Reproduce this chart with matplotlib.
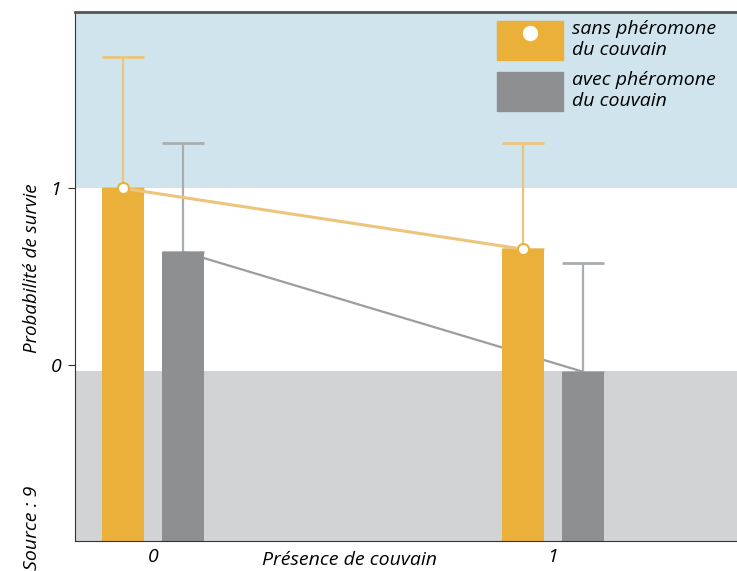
import numpy as np
import matplotlib.pyplot as plt
from matplotlib.patches import Patch
from matplotlib.lines import Line2D

plt.rcParams['font.family'] = ['Open Sans', 'DejaVu Sans']
plt.rcParams['font.style'] = 'italic'

# data
groups = [0, 1]
sans = [1.0, 0.655]          # sans phéromone du couvain
avec = [0.64, -0.04]         # avec phéromone du couvain
sans_err = [0.745, 0.60]
avec_err = [0.615, 0.615]
labels = ["sans phéromone\ndu couvain", "avec phéromone\ndu couvain"]

orange = "#EAB03A"
orange_lt = "#EDC47C"
grey = "#8E8F91"
grey_lt = "#A9ACB0"
blue_bg = "#CFE4EC"
grey_bg = "#D2D3D5"

fig = plt.figure(figsize=(7.37, 5.71), dpi=100)
ax = fig.add_axes([0.1018, 0.0525, 0.8982, 0.9265])

ymin, ymax = -1, 2
ax.set_ylim(ymin, ymax)
ax.set_xlim(-0.195, 1.46)
ax.axhspan(1, ymax, color=blue_bg, lw=0, zorder=0)
ax.axhspan(ymin, -0.035, color=grey_bg, lw=0, zorder=0)

x = np.array(groups, dtype=float)
off, w = 0.075, 0.105
xs, xa = x - off, x + off

# error bars (upper only)
ax.errorbar(xs, sans, yerr=[np.zeros(2), sans_err], fmt='none', ecolor=orange_lt,
            elinewidth=1.6, capsize=15, capthick=2, zorder=1)
ax.errorbar(xa, avec, yerr=[np.zeros(2), avec_err], fmt='none', ecolor=grey_lt,
            elinewidth=1.6, capsize=15, capthick=2, zorder=1)

# connecting lines
ax.plot(xa, avec, color="#9A9DA1", lw=1.6, zorder=1.5)
ax.bar(xs, np.array(sans) - ymin, bottom=ymin, width=w, color=orange, zorder=2)
ax.bar(xa, np.array(avec) - ymin, bottom=ymin, width=w, color=grey, zorder=2)
ax.plot(xs, sans, color=orange_lt, lw=2.2, zorder=3)
ax.plot(xs, sans, 'o', ms=8, mfc='white', mec=orange, mew=1.5, zorder=4)

# axes styling
ax.spines['right'].set_visible(False)
ax.spines['top'].set_color('#555555')
ax.spines['top'].set_linewidth(2)
ax.spines['left'].set_color('#333333')
ax.spines['bottom'].set_color('#333333')
ax.set_yticks([0, 1])
ax.set_yticklabels(['0', '1'], fontsize=14)
ax.set_xticks(groups)
ax.set_xticklabels(['0', '1'], fontsize=14)
ax.tick_params(axis='x', length=0, pad=5)
ax.tick_params(axis='y', length=5, pad=5, color='#333333')

ax.text(0.49, -0.036, "Présence de couvain", transform=ax.get_xaxis_transform(),
        ha='center', va='center', fontsize=14)
fig.text(0.043, 0.53, "Probabilité de survie", rotation=90, ha='center', va='center',
         fontsize=13.5)
fig.text(0.043, 0.002, "Source : 9", rotation=90, ha='center', va='bottom', fontsize=14)

handles = [(Patch(color=orange), Line2D([], [], marker='o', ls='', ms=10, mfc='white', mec='white')),
           Patch(color=grey)]
ax.legend(handles, labels, loc='upper left', bbox_to_anchor=(0.617, 1.011), frameon=False,
          fontsize=14, handlelength=3.4, handleheight=2.75, handletextpad=0.45,
          labelspacing=0.55, borderaxespad=0.3)

fig.savefig("out.png", dpi=100)
